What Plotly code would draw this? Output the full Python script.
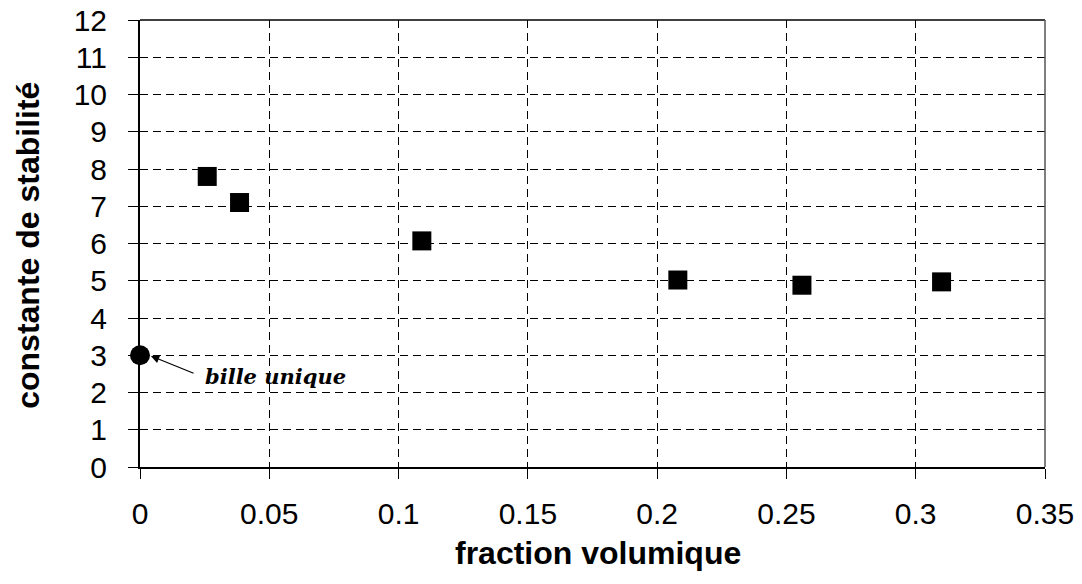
import plotly.graph_objects as go

# data
frac_vol = [0.026, 0.0385, 0.109, 0.208, 0.256, 0.310]
stab_const = [7.8, 7.1, 6.07, 5.02, 4.88, 4.97]
single_x = [0.0]
single_y = [3.0]
x_ticks = [0, 0.05, 0.1, 0.15, 0.2, 0.25, 0.3, 0.35]
x_tick_labels = ["0", "0.05", "0.1", "0.15", "0.2", "0.25", "0.3", "0.35"]
y_ticks = list(range(0, 13))

fig = go.Figure()
fig.add_trace(go.Scatter(x=frac_vol, y=stab_const, mode="markers",
                         marker=dict(symbol="square", size=19, color="black"),
                         showlegend=False, cliponaxis=False))
fig.add_trace(go.Scatter(x=single_x, y=single_y, mode="markers",
                         marker=dict(symbol="circle", size=20, color="black"),
                         showlegend=False, cliponaxis=False))

font_main = "Liberation Sans, Arial, sans-serif"

fig.update_xaxes(range=[0, 0.35], tickvals=x_ticks, ticktext=x_tick_labels,
                 showgrid=True, gridcolor="black", griddash="8px,5px", gridwidth=1,
                 showline=True, linecolor="black", linewidth=2,
                 ticks="outside", ticklen=10, tickcolor="black", tickwidth=1,
                 ticklabelstandoff=9, automargin=False, ticklabeloverflow="allow",
                 tickfont=dict(family=font_main, size=30, color="black"),
                 zeroline=False)
fig.update_yaxes(range=[0, 12], tickvals=y_ticks,
                 showgrid=True, gridcolor="black", griddash="8px,5px", gridwidth=1,
                 showline=True, linecolor="black", linewidth=2,
                 ticks="outside", ticklen=10, tickcolor="black", tickwidth=1,
                 ticklabelstandoff=15, automargin=False, ticklabeloverflow="allow",
                 tickfont=dict(family=font_main, size=30, color="black"),
                 zeroline=False)

# axis titles
fig.add_annotation(xref="paper", yref="paper", x=0.506, y=-0.192,
                   text="<b>fraction volumique</b>", showarrow=False,
                   xanchor="center", yanchor="middle",
                   font=dict(family=font_main, size=32, color="black"))
fig.add_annotation(xref="paper", yref="paper", x=-0.1238, y=0.497,
                   text="<b>constante de stabilité</b>", showarrow=False, textangle=-90,
                   xanchor="center", yanchor="middle",
                   font=dict(family=font_main, size=32, color="black"))

# top and right frame
fig.add_shape(type="line", xref="paper", yref="paper", x0=0, x1=1, y0=1, y1=1,
              line=dict(color="black", width=1.5))
fig.add_shape(type="line", xref="paper", yref="paper", x0=1, x1=1, y0=0, y1=1,
              line=dict(color="#555555", width=1.5))

# annotation arrow and text
fig.add_annotation(x=0.0042, y=2.98, ax=0.0213, ay=2.50, xref="x", yref="y",
                   axref="x", ayref="y", text="", showarrow=True,
                   arrowhead=2, arrowsize=1.4, arrowwidth=1.2, arrowcolor="black")
fig.add_annotation(x=0.0243, y=2.44, xref="x", yref="y", text="<b><i>bille unique</i></b>",
                   showarrow=False, xanchor="left", yanchor="middle",
                   font=dict(family="DejaVu Serif, serif", size=21, color="black"))

fig.update_layout(width=1074, height=568, plot_bgcolor="white", paper_bgcolor="white",
                  margin=dict(l=132, r=37, t=12, b=109))

fig.write_html("out.html")
